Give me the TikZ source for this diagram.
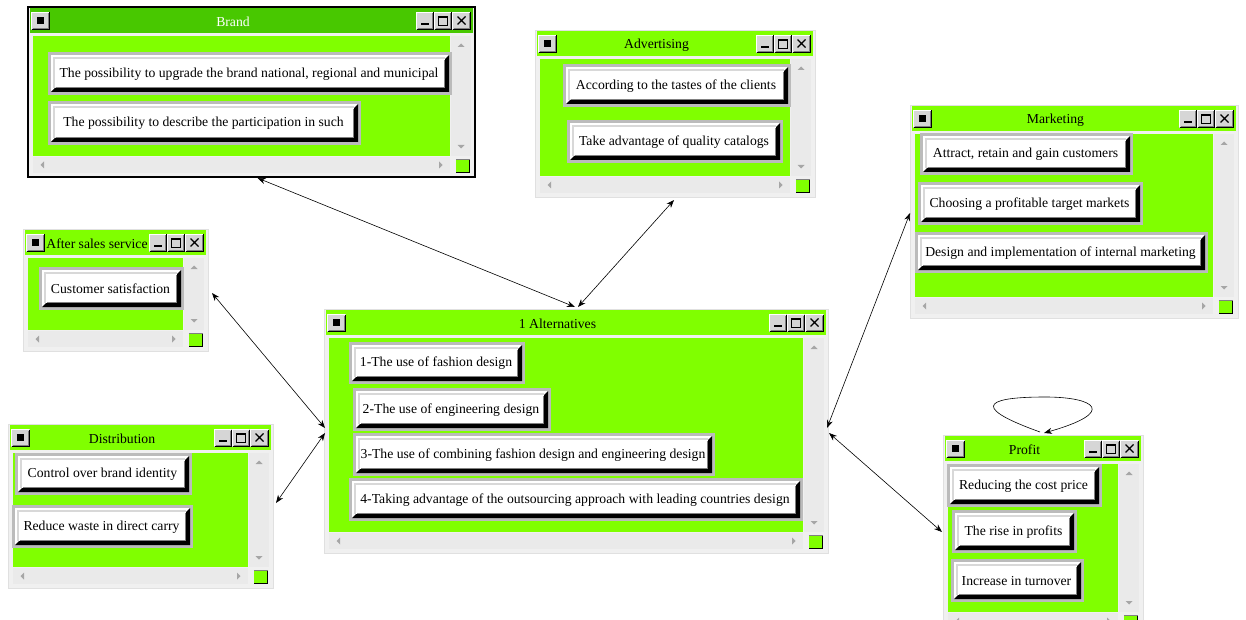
\documentclass[tikz,border=0pt]{standalone}
\usepackage{fontspec}
\setmainfont{Liberation Serif}
\usetikzlibrary{arrows.meta}
\definecolor{lime}{HTML}{80FF00}
\definecolor{darklime}{HTML}{48C800}
\definecolor{winbg}{HTML}{F0F0F0}
\definecolor{winedge}{HTML}{E0E0E0}
\definecolor{scrollbg}{HTML}{EAEAEA}
\definecolor{frameg}{HTML}{BBBBBB}
\definecolor{bevelg}{HTML}{D8D8D8}
\definecolor{tbface}{HTML}{D6D6D6}
\definecolor{arrowg}{HTML}{A6A6A6}
\newcommand\myitemfont{\fontsize{13.7}{16}\selectfont}
\newcommand\mytitlefont{\fontsize{13.7}{16}\selectfont}
% title-bar button
\newcommand\tbtn[4]{%
  \fill[tbface] (#1,#2) rectangle (#3,#4);
  \draw[white, line width=1pt] (#1+0.5,#4-1) -- (#1+0.5,#2+0.5) -- (#3-1,#2+0.5);
  \draw[black, line width=1pt] (#1+0.5,#4-0.5) -- (#3-0.5,#4-0.5) -- (#3-0.5,#2+0.5);
  \draw[gray, line width=1pt] (#1+1.5,#4-1.5) -- (#3-1.5,#4-1.5) -- (#3-1.5,#2+1.5);
}
% window: name x1 y1 W H titlecolour titletextcolour title [extra node options]
\newcommand\win[9]{%
  \node[winframe, minimum width=#4pt, minimum height=#5pt, #9] (#1) at (#2,#3) {};
  \begin{scope}[shift={(#2,#3)}]
    \fill[#6] (2,1) rectangle (#4-2,26);
    \tbtn{3}{5}{22}{23}
    \fill[black] (9,10) rectangle (16,17);
    \tbtn{#4-59}{5}{#4-41}{23}
    \fill[black] (#4-54,16) rectangle (#4-46,18);
    \tbtn{#4-41}{5}{#4-23}{23}
    \draw[black, line width=1pt] (#4-36.5,9.5) rectangle (#4-27.5,18.5);
    \draw[black, line width=1pt] (#4-36.5,10.5) -- (#4-27.5,10.5);
    \tbtn{#4-23}{5}{#4-4}{23}
    \draw[black, line width=1.3pt] (#4-17.5,9.5) -- (#4-9.5,17.5) (#4-17.5,17.5) -- (#4-9.5,9.5);
    \node[font=\mytitlefont, text=#7, inner sep=0pt] (#1-title) at ({(#4-37)/2},15) {#8};
    \fill[lime] (5,29) rectangle (#4-25,#5-21);
    \fill[scrollbg] (#4-24,29) rectangle (#4-4,#5-21);
    \fill[scrollbg] (5,#5-20) rectangle (#4-25,#5-4);
    \fill[arrowg] (#4-17.5,40) -- (#4-10.5,40) -- (#4-14,36.5) -- cycle;
    \fill[arrowg] (#4-17.5,#5-32) -- (#4-10.5,#5-32) -- (#4-14,#5-28.5) -- cycle;
    \fill[arrowg] (12.5,#5-12) -- (16,#5-15.5) -- (16,#5-8.5) -- cycle;
    \fill[arrowg] (#4-32.5,#5-12) -- (#4-36,#5-15.5) -- (#4-36,#5-8.5) -- cycle;
    \fill[lime] (#4-19,#5-18) rectangle (#4-5,#5-4);
    \draw[black, line width=1pt] (#4-19,#5-4.5) -- (#4-5.5,#5-4.5) -- (#4-5.5,#5-18);
    \draw[gray, line width=0.6pt] (#4-19,#5-18) -- (#4-5.5,#5-18);
  \end{scope}}
% item button: name x1 y1 x2 y2 text
\newcommand\btn[6]{%
  \pgfmathtruncatemacro\bw{#4-#2}\pgfmathtruncatemacro\bh{#5-#3}%
  \begin{scope}[shift={(#2,#3)}]
    \fill[frameg] (0,0) rectangle (\bw,\bh);
    \fill[white] (3,3) rectangle (\bw-3,\bh-3);
    \fill[bevelg] (5,5) rectangle (\bw-7,7);
    \fill[bevelg] (5,5) rectangle (7,\bh-7);
    \fill[black] (3,\bh-3) -- (\bw-3,\bh-3) -- (\bw-3,3) -- (\bw-7,7) -- (\bw-7,\bh-7) -- (7,\bh-7) -- cycle;
    \draw[gray, line width=1pt] (8,\bh-7.5) -- (\bw-7.5,\bh-7.5) -- (\bw-7.5,8);
  \end{scope}
  \node[itembtn, minimum width=\bw pt, minimum height=\bh pt] (#1) at ({(#2+#4)/2-1},{(#3+#5)/2+0.5}) {#6};}
\tikzset{
  winframe/.style={rectangle, anchor=north west, inner sep=0pt, outer sep=0pt,
    fill=winbg, draw=winedge, line width=0.6pt},
  itembtn/.style={rectangle, inner sep=0pt, outer sep=0pt, font=\myitemfont, text=black},
  conn/.style={{Stealth[length=8pt,width=6pt]}-{Stealth[length=8pt,width=6pt]}, line width=0.6pt},
  loopconn/.style={-{Stealth[length=8pt,width=6pt]}, line width=0.6pt}
}
\begin{document}
\begin{tikzpicture}[x=1pt,y=-1pt]
\useasboundingbox (0,0) rectangle (1246,620);
\clip (0,0) rectangle (1246,620);
\fill[white] (0,0) rectangle (1246,620);

% windows
\win{brand}{28}{7}{447}{170}{darklime}{white}{Brand}{draw=black, line width=2.5pt}
\win{adv}{535}{30}{280}{167}{lime}{black}{Advertising}{}
\win{mkt}{910}{105}{328}{213}{lime}{black}{Marketing}{}
\win{after}{23}{229}{185}{122}{lime}{black}{After sales service}{}
\win{dist}{8}{424}{265}{164}{lime}{black}{Distribution}{}
\win{alt}{324}{309}{504}{244}{lime}{black}{1 Alternatives}{}
\win{profit}{943}{435}{200}{198}{lime}{black}{Profit}{}

% items
\btn{br1}{48}{52}{452}{95}{The possibility to upgrade the brand national, regional and municipal}
\btn{br2}{48}{101}{361}{145}{The possibility to describe the participation in such}
\btn{ad1}{563}{64}{791}{107}{According to the tastes of the clients}
\btn{ad2}{567}{120}{783}{163}{Take advantage of quality catalogs}
\btn{mk1}{920}{133}{1133}{175}{Attract, retain and gain customers}
\btn{mk2}{918}{182}{1143}{225}{Choosing a profitable target markets}
\btn{mk3}{915}{232}{1208}{273}{Design and implementation of internal marketing}
\btn{as1}{39}{267}{184}{310}{Customer satisfaction}
\btn{ds1}{15}{453}{192}{495}{Control over brand identity}
\btn{ds2}{12}{505}{193}{548}{Reduce waste in direct carry}
\btn{al1}{349}{342}{525}{384}{1-The use of fashion design}
\btn{al2}{353}{388}{551}{431}{2-The use of engineering design}
\btn{al3}{353}{433}{715}{476}{3-The use of combining fashion design and engineering design}
\btn{al4}{349}{478}{803}{521}{4-Taking advantage of the outsourcing approach with leading countries design}
\btn{pr1}{947}{464}{1102}{507}{Reducing the cost price}
\btn{pr2}{952}{510}{1077}{553}{The rise in profits}
\btn{pr3}{951}{559}{1084}{602}{Increase in turnover}

% connectors
\draw[conn] ([shift={(6,1)}]brand.south) -- ([shift={(-1,-2)}]alt.north);
\draw[conn] ([shift={(-1,3)}]adv.south) -- ([shift={(2,-2)}]alt.north);
\draw[conn] ([shift={(0,1.5)}]mkt.west) -- ([shift={(-1,-3)}]alt.east);
\draw[conn] ([shift={(-1,-2)}]profit.west) -- ([shift={(1,2)}]alt.east);
\draw[conn] ([shift={(4,3)}]after.east) -- ([shift={(1,-3)}]alt.west);
\draw[conn] ([shift={(3,-3)}]dist.east) -- ([shift={(1,2)}]alt.west);
\draw[loopconn] ([shift={(-3,-3)}]profit.north) .. controls (962,404) and (995,397) .. (1045,397)
  .. controls (1095,397) and (1118,412) .. ([shift={(1,-2)}]profit.north);
\end{tikzpicture}
\end{document}
